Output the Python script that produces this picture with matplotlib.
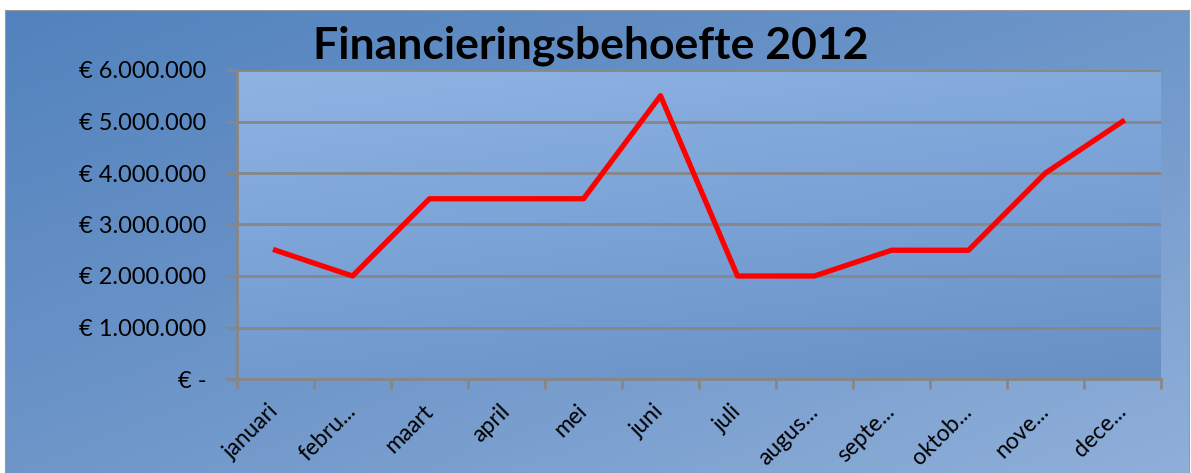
import numpy as np
import matplotlib.pyplot as plt
from matplotlib.colors import LinearSegmentedColormap
from matplotlib.ticker import FuncFormatter

# Data
maanden = ['januari', 'febru...', 'maart', 'april', 'mei', 'juni',
           'juli', 'augus...', 'septe...', 'oktob...', 'nove...', 'dece...']
bedragen = [2500000, 2000000, 3500000, 3500000, 3500000, 5500000,
            2000000, 2000000, 2500000, 2500000, 4000000, 5000000]
y_ticks = [0, 1000000, 2000000, 3000000, 4000000, 5000000, 6000000]
titel = 'Financieringsbehoefte 2012'

plt.rcParams['font.family'] = ['Lato', 'DejaVu Sans']

W, H = 1191, 473
fig = plt.figure(figsize=(W / 100, H / 100), dpi=100)
fig.patch.set_facecolor('white')

# chart area background (diagonal gradient)
bg = fig.add_axes([5 / W, 0, 1184 / W, 463 / H])
gx, gy = np.meshgrid(np.linspace(0, 1, 200), np.linspace(0, 1, 100))
grad = 0.6 * gx + 0.6 * gy
cmap_bg = LinearSegmentedColormap.from_list('bg', ['#5282bd', '#6e96c9', '#8fafd9'])
bg.imshow(grad, cmap=cmap_bg, aspect='auto', extent=[0, 1, 0, 1], origin='upper')
for s in bg.spines.values():
    s.set_color('#9a9a9a')
bg.set_xticks([]); bg.set_yticks([])
bg.set_xlim(0, 1); bg.set_ylim(0, 1)

# plot area
ax = fig.add_axes([237 / W, 1 - 379 / H, 924 / W, 309 / H])
px, py = np.meshgrid(np.linspace(0, 1, 200), np.linspace(0, 1, 100))
pgrad = 0.8 * py + 0.3 * px
cmap_pa = LinearSegmentedColormap.from_list('pa', ['#8fb3e3', '#7aa2d6', '#6890c5'])
ax.imshow(pgrad, cmap=cmap_pa, aspect='auto', extent=[-0.5, 11.5, 6000000, 0],
          origin='lower', zorder=0)

x = np.arange(len(maanden))
ax.plot(x, bedragen, color='#ff0000', lw=3.8, zorder=3, solid_joinstyle='round')

ax.set_xlim(-0.5, 11.5)
ax.set_ylim(0, 6000000)
ax.set_yticks(y_ticks)
ax.yaxis.set_major_formatter(FuncFormatter(
    lambda v, p: '€ -' if v == 0 else '€ ' + f'{int(v):,}'.replace(',', '.')))
ax.grid(axis='y', color='#878787', lw=2, zorder=1)
ax.set_axisbelow(False)

ax.set_xticks(x)
ax.set_xticklabels(maanden, rotation=45, ha='right', va='center',
                   rotation_mode='anchor', fontsize=16.5)
ax.set_xticks(np.arange(-0.5, 12, 1), minor=True)
ax.tick_params(axis='x', which='major', length=0, pad=21)
ax.tick_params(axis='x', which='minor', length=7, width=2, color='#878787')
ax.tick_params(axis='y', length=8, width=2, color='#878787', labelsize=17, pad=14)

for side in ['top', 'right']:
    ax.spines[side].set_visible(False)
for side in ['left', 'bottom']:
    ax.spines[side].set_color('#878787')
    ax.spines[side].set_linewidth(2)

fig.text(591 / W, 1 - 46 / H, titel, ha='center', va='center',
         fontsize=32, fontweight='bold', color='black')

fig.savefig('out.png', dpi=100)
